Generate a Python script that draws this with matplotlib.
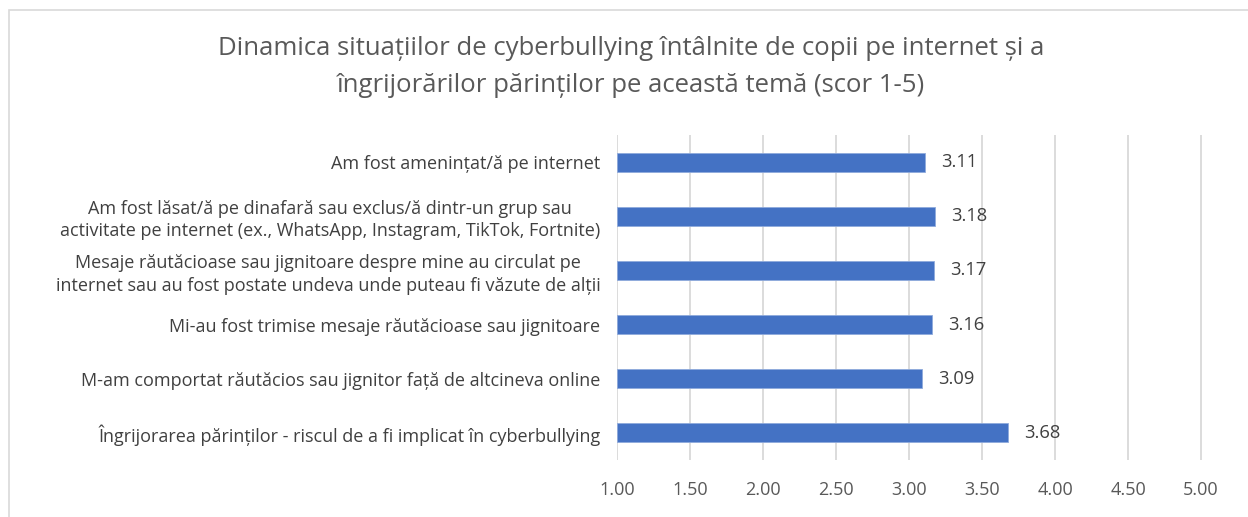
import matplotlib
matplotlib.use("Agg")
from matplotlib import pyplot as plt
from matplotlib.patches import Rectangle

plt.rcParams["font.family"] = ["Open Sans", "DejaVu Sans"]

# data (top to bottom as in the picture)
categories = [
    "Am fost amenințat/ă pe internet",
    "Am fost lăsat/ă pe dinafară sau exclus/ă dintr-un grup sau\nactivitate pe internet (ex., WhatsApp, Instagram, TikTok, Fortnite)",
    "Mesaje răutăcioase sau jignitoare despre mine au circulat pe\ninternet sau au fost postate undeva unde puteau fi văzute de alții",
    "Mi-au fost trimise mesaje răutăcioase sau jignitoare",
    "M-am comportat răutăcios sau jignitor față de altcineva online",
    "Îngrijorarea părinților - riscul de a fi implicat în cyberbullying",
]
scores = [3.11, 3.18, 3.17, 3.16, 3.09, 3.68]
x_ticks = [1.0, 1.5, 2.0, 2.5, 3.0, 3.5, 4.0, 4.5, 5.0]

title = ("Dinamica situațiilor de cyberbullying întâlnite de copii pe internet și a\n"
         "îngrijorărilor părinților pe această temă (scor 1-5)")

fig = plt.figure(figsize=(12.48, 5.17), dpi=100)
ax = fig.add_axes([617 / 1248, 1 - 460 / 517, 587 / 1248, 325 / 517])

# light chart border (cut off at right / bottom like the screenshot)
fig.patches.append(Rectangle((9 / 1248, -0.5), 2, 1.5 - 10 / 517, transform=fig.transFigure,
                             fill=False, edgecolor="#d9d9d9", linewidth=1.2))

y_pos = list(range(len(categories)))
ax.barh(y_pos, [s - 1 for s in scores], left=1, height=0.35, color="#4472c4",
        edgecolor="#8faadc", linewidth=0.6, zorder=3)

for y, s in zip(y_pos, scores):
    ax.text(s + 0.11, y, f"{s:.2f}", va="center", ha="left", fontsize=13.2, color="#404040")

ax.set_xlim(1, 5.02)
ax.set_ylim(len(categories) - 0.5, -0.5)
ax.set_xticks(x_ticks)
ax.set_xticklabels([f"{t:.2f}" for t in x_ticks])
ax.set_yticks(y_pos)
ax.set_yticklabels(categories, multialignment="center", linespacing=1.3)

ax.tick_params(axis="x", length=0, pad=15, labelsize=13.0, labelcolor="#595959")
ax.tick_params(axis="y", length=0, pad=12, labelsize=13.0, labelcolor="#404040")

ax.grid(axis="x", color="#d9d9d9", linewidth=1.3, zorder=0)
for side in ["top", "right", "bottom", "left"]:
    ax.spines[side].set_visible(False)

fig.text(0.506, 1 - 67 / 517, title, ha="center", va="center", fontsize=18.5,
         color="#595959", linespacing=1.62)

fig.savefig("out.png", dpi=100)
